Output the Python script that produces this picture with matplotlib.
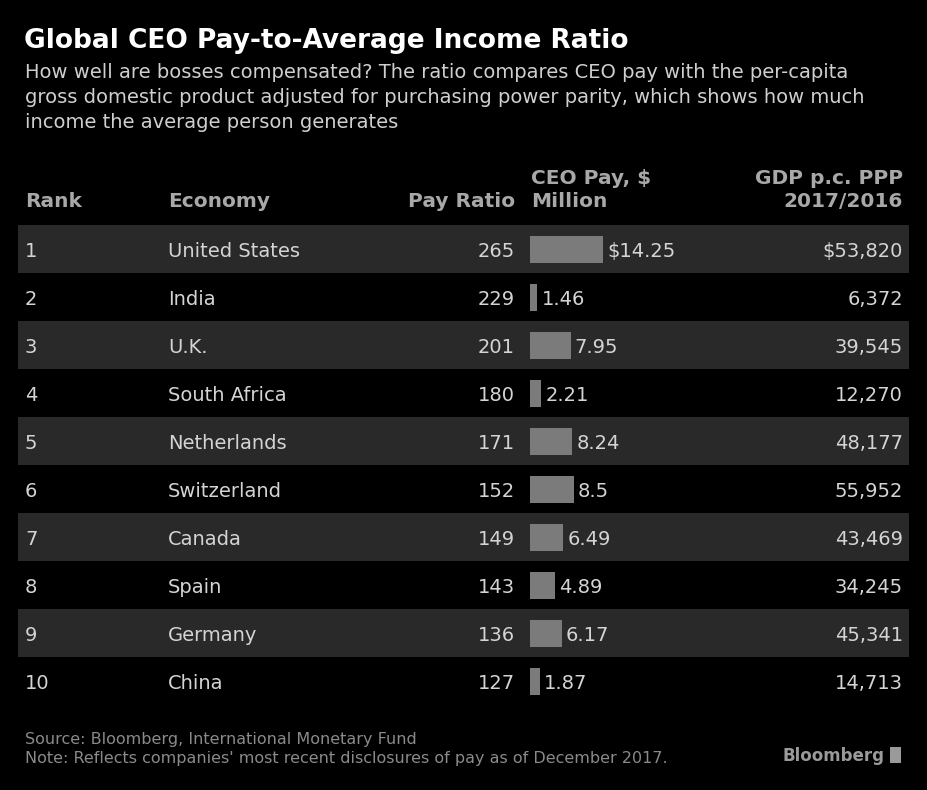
import matplotlib.pyplot as plt

ranks = [1, 2, 3, 4, 5, 6, 7, 8, 9, 10]
economies = ["United States", "India", "U.K.", "South Africa", "Netherlands",
             "Switzerland", "Canada", "Spain", "Germany", "China"]
pay_ratio = [265, 229, 201, 180, 171, 152, 149, 143, 136, 127]
ceo_pay = [14.25, 1.46, 7.95, 2.21, 8.24, 8.5, 6.49, 4.89, 6.17, 1.87]
gdp_ppp = [53820, 6372, 39545, 12270, 48177, 55952, 43469, 34245, 45341, 14713]

plt.rcParams["font.family"] = ["DejaVu Sans"]

fig = plt.figure(figsize=(9.27, 7.9), dpi=100, facecolor="black")
ax = fig.add_axes([0, 0, 1, 1])
ax.set_facecolor("black")
ax.set_xlim(0, 927)
ax.set_ylim(790, 0)
ax.axis("off")

# title and subtitle
ax.text(24, 48, "Global CEO Pay-to-Average Income Ratio", color="white",
        fontsize=19, fontweight="bold", va="baseline")
sub = ["How well are bosses compensated? The ratio compares CEO pay with the per-capita",
       "gross domestic product adjusted for purchasing power parity, which shows how much",
       "income the average person generates"]
for i, line in enumerate(sub):
    ax.text(25, 78 + i * 25, line, color="#cfcfcf", fontsize=14, va="baseline")

# header
hc = "#a8a8a8"
hfs = 14.5
hb = dict(color=hc, fontsize=hfs, fontweight="bold", va="baseline")
ax.text(25, 207, "Rank", **hb)
ax.text(168, 207, "Economy", **hb)
ax.text(515, 207, "Pay Ratio", ha="right", **hb)
ax.text(531, 184, "CEO Pay, $", **hb)
ax.text(531, 207, "Million", **hb)
ax.text(903, 184, "GDP p.c. PPP", ha="right", **hb)
ax.text(903, 207, "2017/2016", ha="right", **hb)

# rows
row_h = 48
y0 = 249
ys = [y0 + i * row_h for i in range(len(ranks))]
for i, y in enumerate(ys):
    if i % 2 == 0:
        ax.add_patch(plt.Rectangle((18, y - row_h / 2), 891, row_h,
                                   color="#292929", lw=0, zorder=0))

scale = 5.12
ax.barh(ys, [p * scale for p in ceo_pay], left=530, height=27,
        color="#7b7b7b", zorder=2)

tc = "#d4d4d4"
fs = 14
for i, y in enumerate(ys):
    yt = y + 8
    ax.text(25, yt, str(ranks[i]), color=tc, fontsize=fs, va="baseline")
    ax.text(168, yt, economies[i], color=tc, fontsize=fs, va="baseline")
    ax.text(515, yt, str(pay_ratio[i]), color=tc, fontsize=fs, va="baseline", ha="right")
    lab = f"${ceo_pay[i]:g}" if i == 0 else f"{ceo_pay[i]:g}"
    ax.text(530 + ceo_pay[i] * scale + 4, yt, lab, color=tc, fontsize=fs, va="baseline")
    g = f"{gdp_ppp[i]:,}"
    if i == 0:
        g = "$" + g
    ax.text(903, yt, g, color=tc, fontsize=fs, va="baseline", ha="right")

# footer
fc = "#8a8a8a"
ax.text(25, 744, "Source: Bloomberg, International Monetary Fund", color=fc,
        fontsize=11.5, va="baseline")
ax.text(25, 763, "Note: Reflects companies' most recent disclosures of pay as of December 2017.",
        color=fc, fontsize=11.5, va="baseline")
ax.text(885, 761, "Bloomberg", color="#9a9a9a", fontsize=12, fontweight="bold",
        va="baseline", ha="right")
ax.add_patch(plt.Rectangle((890, 747), 11, 16, color="#9a9a9a", lw=0))

fig.savefig("out.png", dpi=100, facecolor="black")
